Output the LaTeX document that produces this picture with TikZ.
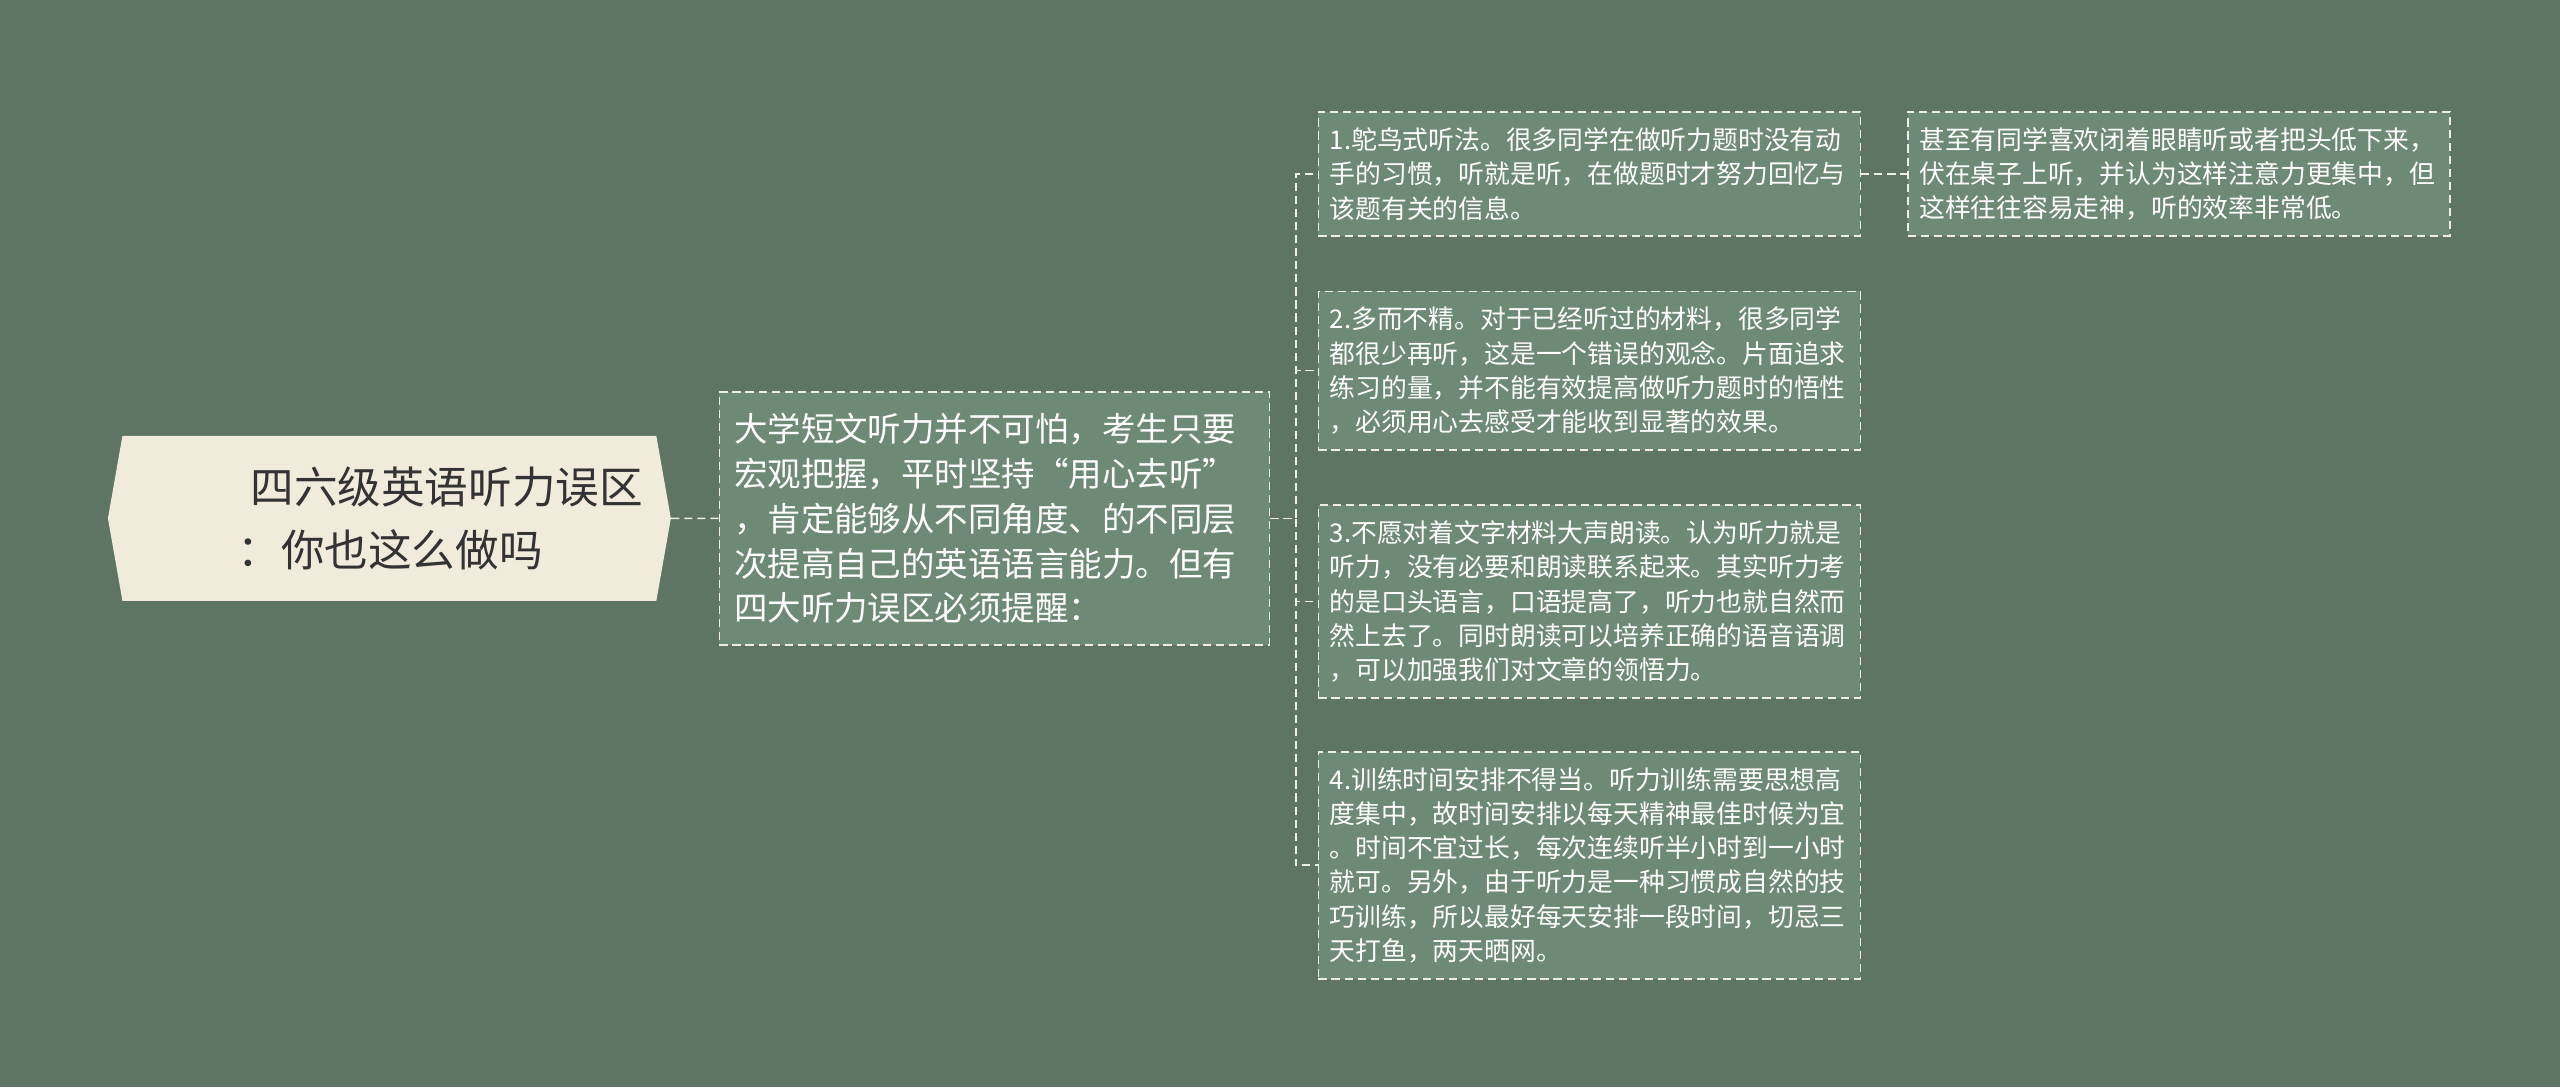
\documentclass[tikz,border=0pt]{standalone}
\usepackage{fontspec}
\setmainfont{Noto Sans CJK SC}
\usetikzlibrary{positioning}
\usetikzlibrary{shapes.symbols}
\definecolor{bg}{HTML}{5F7563}
\definecolor{boxfill}{HTML}{6D8A74}
\definecolor{rootfill}{HTML}{F0EBDA}
\definecolor{rootink}{HTML}{333333}
\definecolor{dashink}{HTML}{EEEEE6}

\begin{document}
\begin{tikzpicture}[x=1pt,y=-1pt,
        link/.style={draw=dashink,line width=1pt,dash pattern=on 5pt off 3pt},
        rootbox/.style={signal,signal to=west and east,signal pointer angle=160,
            fill=rootfill,text=rootink,text width=320pt,inner xsep=3.5pt,inner ysep=0pt,
            minimum height=101pt,align=left,font=\fontsize{26.7}{39}\selectfont},
        mainbox/.style={rectangle,fill=boxfill,link,text=white,text width=319pt,
            inner xsep=9pt,inner ysep=0pt,minimum height=155pt,align=left,
            font=\fontsize{20.5}{27.5}\selectfont},
        tipbox/.style={rectangle,fill=boxfill,link,text=white,text width=318pt,
            inner xsep=7pt,inner ysep=0pt,align=left,
            font=\fontsize{15.8}{21}\selectfont}]
        \fill[bg] (0,0) rectangle (1568,666);
        \useasboundingbox (0,0) rectangle (1568,666);
        \node[rootbox] (root) at (238.5,317.5) {\hspace*{75pt}四六级英语听力误区\\\hspace*{67pt}：你也这么做吗};
        \node[mainbox] (main) [right=29pt of root] {大学短文听力并不可怕，考生只要\\宏观把握，平时坚持“用心去听”\\，肯定能够从不同角度、的不同层\\次提高自己的英语语言能力。但有\\四大听力误区必须提醒：};
        \node[tipbox,minimum height=76pt,anchor=north west] (c1) at (807,68) {1.鸵鸟式听法。很多同学在做听力题时没有动\\手的习惯，听就是听，在做题时才努力回忆与\\该题有关的信息。};
        \node[tipbox,minimum height=97pt] (c2) [below=33pt of c1] {2.多而不精。对于已经听过的材料，很多同学\\都很少再听，这是一个错误的观念。片面追求\\练习的量，并不能有效提高做听力题时的悟性\\，必须用心去感受才能收到显著的效果。};
        \node[tipbox,minimum height=118pt] (c3) [below=33pt of c2] {3.不愿对着文字材料大声朗读。认为听力就是\\听力，没有必要和朗读联系起来。其实听力考\\的是口头语言，口语提高了，听力也就自然而\\然上去了。同时朗读可以培养正确的语音语调\\，可以加强我们对文章的领悟力。};
        \node[tipbox,minimum height=139pt] (c4) [below=32pt of c3] {4.训练时间安排不得当。听力训练需要思想高\\度集中，故时间安排以每天精神最佳时候为宜\\。时间不宜过长，每次连续听半小时到一小时\\就可。另外，由于听力是一种习惯成自然的技\\巧训练，所以最好每天安排一段时间，切忌三\\天打鱼，两天晒网。};
        \node[tipbox,minimum height=76pt] (d1) [right=28pt of c1] {甚至有同学喜欢闭着眼睛听或者把头低下来，\\伏在桌子上听，并认为这样注意力更集中，但\\这样往往容易走神，听的效率非常低。};
        \draw[link] (root) -- (main);
        \foreach \c in {c1,c2,c3,c4}
            \draw[link] (main.east) -- ++(15.5,0) |- (\c.west);
        \draw[link] (c1) -- (d1);
    \end{tikzpicture}
\end{document}
